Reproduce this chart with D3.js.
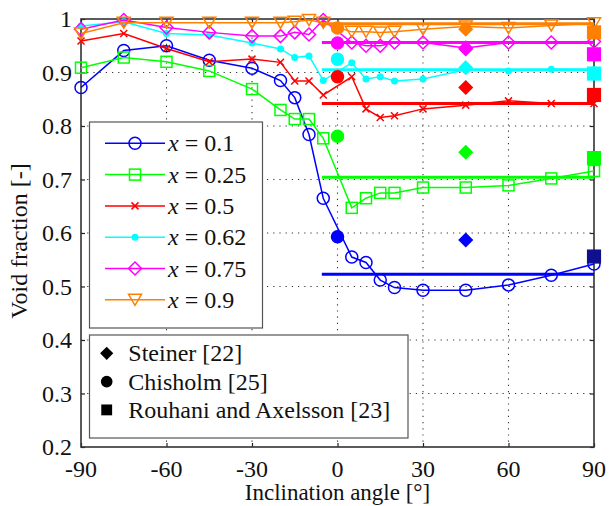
<!DOCTYPE html>
<html><head><meta charset="utf-8">
<script src="https://cdn.jsdelivr.net/npm/d3@7"></script>
</head><body style="margin:0;background:#fff"><svg id="c" width="611" height="506"></svg>
<script>
const angles = [-90,-75,-60,-45,-30,-20,-15,-10,-5,5,10,15,20,30,45,60,75,90];
const seriesNames = ["0.1","0.25","0.5","0.62","0.75","0.9"];
const seriesColors = ["#0000ff","#00ff00","#ff0000","#00ffff","#ff00ff","#ff8000"];
const seriesMarkers = ["circle","square","x","dot","diamond","triangle"];
const v01  = [0.872,0.941,0.950,0.923,0.908,0.885,0.853,0.784,0.665,0.555,0.545,0.512,0.498,0.493,0.493,0.503,0.521,0.542];
const v025 = [0.909,0.928,0.920,0.903,0.869,0.830,0.813,0.813,0.777,0.647,0.665,0.675,0.675,0.685,0.685,0.689,0.702,0.716];
const v05  = [0.959,0.973,0.945,0.920,0.925,0.919,0.884,0.884,0.858,0.892,0.832,0.816,0.819,0.832,0.839,0.847,0.842,0.842];
const v062 = [0.987,0.995,0.973,0.970,0.955,0.944,0.928,0.931,0.885,0.918,0.888,0.892,0.884,0.888,0.905,0.903,0.906,0.905];
const v075 = [0.981,0.998,0.984,0.975,0.968,0.968,0.975,0.971,0.998,0.956,0.950,0.950,0.956,0.956,0.946,0.956,0.956,0.958];
const v09  = [0.973,0.993,0.993,0.993,0.993,0.993,0.995,0.998,0.993,0.976,0.976,0.975,0.976,0.981,0.986,0.983,0.988,0.992];
const seriesValues = [v01,v025,v05,v062,v075,v09];
// model (horizontal) lines
const modelRange = [-5.5, 90];
const modelValues = [0.523,0.704,0.842,0.905,0.956,0.991];
// reference data
const chisholmAngle = 0, steinerAngle = 45, rouhaniAngle = 90;
const chisholmValues = [0.593,0.781,0.892,0.925,0.955,0.983];
const steinerValues  = [0.587,0.751,0.872,0.909,0.944,0.981];
const rouhaniValues  = [0.556,0.740,0.858,0.898,0.934,0.975];
const rouhaniColors  = ["#10108f","#00ff00","#ff0000","#00ffff","#ff00ff","#ff8000"];
const xTicks = [-90,-60,-30,0,30,60,90];
const yTicks = [0.2,0.3,0.4,0.5,0.6,0.7,0.8,0.9,1];
const refNames = ["Steiner [22]","Chisholm [25]","Rouhani and Axelsson [23]"];

const TSTYLE = 'font-family:"Liberation Serif";font-size:24px;fill:#111';
const svg = d3.select("#c");
const L=81, R=594, T=19, B=447;
const x = d3.scaleLinear().domain([-90,90]).range([L,R]);
const y = d3.scaleLinear().domain([0.2,1]).range([B,T]);

function txt(g){ return g.append("text").attr("style",TSTYLE); }

// grid
const grid = svg.append("g").attr("stroke","#333").attr("stroke-width",1.1).attr("stroke-dasharray","1.2,5");
xTicks.slice(1,-1).forEach(t=>grid.append("line").attr("x1",x(t)).attr("x2",x(t)).attr("y1",T).attr("y2",B));
yTicks.slice(1,-1).forEach(t=>grid.append("line").attr("x1",L).attr("x2",R).attr("y1",y(t)).attr("y2",y(t)));

// axes (ticks via d3 axes, labels drawn as styled text)
const ax = svg.append("g").attr("transform",`translate(0,${B})`).call(d3.axisBottom(x).tickValues(xTicks).tickSize(-4).tickFormat(""));
const ay = svg.append("g").attr("transform",`translate(${L},0)`).call(d3.axisLeft(y).tickValues(yTicks).tickSize(-4).tickFormat(""));
const at = svg.append("g").attr("transform",`translate(0,${T})`).call(d3.axisTop(x).tickValues(xTicks).tickSize(-4).tickFormat(""));
const ar = svg.append("g").attr("transform",`translate(${R},0)`).call(d3.axisRight(y).tickValues(yTicks).tickSize(-4).tickFormat(""));
[ax,ay,at,ar].forEach(g=>{g.select(".domain").remove();g.selectAll("text").remove();
  g.selectAll("line").attr("stroke","#222").attr("stroke-width",1.2);});
xTicks.forEach(t=>txt(svg).attr("x",x(t)).attr("y",477).attr("text-anchor","middle").text(String(t)));
yTicks.forEach(t=>txt(svg).attr("x",72).attr("y",y(t)+8).attr("text-anchor","end").text(t===1?"1":d3.format(".1f")(t)));
svg.append("rect").attr("x",L).attr("y",T).attr("width",R-L).attr("height",B-T).attr("fill","none").attr("stroke","#333").attr("stroke-width",1.6);

function marker(g, type, cx, cy, color, filled, s){
  s = s||1;
  if(type==="circle"){g.append("circle").attr("cx",cx).attr("cy",cy).attr("r",6*s).attr("fill",filled?color:"none").attr("stroke",color).attr("stroke-width",1.5);}
  else if(type==="square"){const h=5.5*s;g.append("rect").attr("x",cx-h).attr("y",cy-h).attr("width",2*h).attr("height",2*h).attr("fill",filled?color:"none").attr("stroke",color).attr("stroke-width",1.5);}
  else if(type==="x"){const h=3.5;g.append("path").attr("d",`M${cx-h},${cy-h}L${cx+h},${cy+h}M${cx-h},${cy+h}L${cx+h},${cy-h}`).attr("stroke",color).attr("stroke-width",1.5);}
  else if(type==="dot"){g.append("circle").attr("cx",cx).attr("cy",cy).attr("r",3.5).attr("fill",color);}
  else if(type==="diamond"){const h=6.5*s;g.append("path").attr("d",`M${cx},${cy-h}L${cx+h},${cy}L${cx},${cy+h}L${cx-h},${cy}Z`).attr("fill",filled?color:"none").attr("stroke",color).attr("stroke-width",1.5);}
  else if(type==="triangle"){const w=6.5,h=5.5;g.append("path").attr("d",`M${cx-w},${cy-h}L${cx+w},${cy-h}L${cx},${cy+h}Z`).attr("fill","none").attr("stroke",color).attr("stroke-width",1.5);}
}

const line = d3.line().x(d=>x(d[0])).y(d=>y(d[1]));
const sg = svg.append("g");
seriesValues.forEach((vals,i)=>{
  const pts = angles.map((a,j)=>[a,vals[j]]);
  sg.append("path").attr("d",line(pts)).attr("fill","none").attr("stroke",seriesColors[i]).attr("stroke-width",1.5);
  pts.forEach(p=>marker(sg,seriesMarkers[i],x(p[0]),y(p[1]),seriesColors[i],false));
});
// model lines
modelValues.forEach((v,i)=>{
  sg.append("line").attr("x1",x(modelRange[0])).attr("x2",x(modelRange[1])).attr("y1",y(v)).attr("y2",y(v)).attr("stroke",seriesColors[i]).attr("stroke-width",3);
});
// reference markers
seriesColors.forEach((c,i)=>{
  marker(sg,"circle",x(chisholmAngle),y(chisholmValues[i]),c,true);
  marker(sg,"diamond",x(steinerAngle),y(steinerValues[i]),c,true);
  marker(sg,"square",x(rouhaniAngle),y(rouhaniValues[i]),rouhaniColors[i],true,1.15);
});

// legend 1
const lg = svg.append("g");
lg.append("rect").attr("x",89.5).attr("y",122).attr("width",173).attr("height",206).attr("fill","#fff").attr("stroke","#555").attr("stroke-width",1.2);
seriesNames.forEach((n,i)=>{
  const ry = 143.3 + i*31.3;
  lg.append("line").attr("x1",105).attr("x2",165).attr("y1",ry).attr("y2",ry).attr("stroke",seriesColors[i]).attr("stroke-width",1.5);
  marker(lg,seriesMarkers[i],135,ry,seriesColors[i],false);
  const t = txt(lg).attr("x",168).attr("y",ry+8);
  t.append("tspan").attr("style","font-style:italic").text("x");
  t.append("tspan").text(" = "+n);
});
// legend 2
const lg2 = svg.append("g");
lg2.append("rect").attr("x",89.5).attr("y",335).attr("width",318.5).attr("height",103).attr("fill","#fff").attr("stroke","#555").attr("stroke-width",1.2);
const refMarkers = ["diamond","circle","square"];
refNames.forEach((n,i)=>{
  const ry = 353.3 + i*28.3;
  marker(lg2,refMarkers[i],106.7,ry,"#000",true,0.85);
  txt(lg2).attr("x",128.3).attr("y",ry+8).text(n);
});

// axis labels
txt(svg).attr("x",(L+R)/2).attr("y",500).attr("text-anchor","middle").style("font-size","23px").text("Inclination angle [°]");
txt(svg).attr("transform","translate(27,241) rotate(-90)").attr("text-anchor","middle").text("Void fraction [-]");
</script></body></html>
